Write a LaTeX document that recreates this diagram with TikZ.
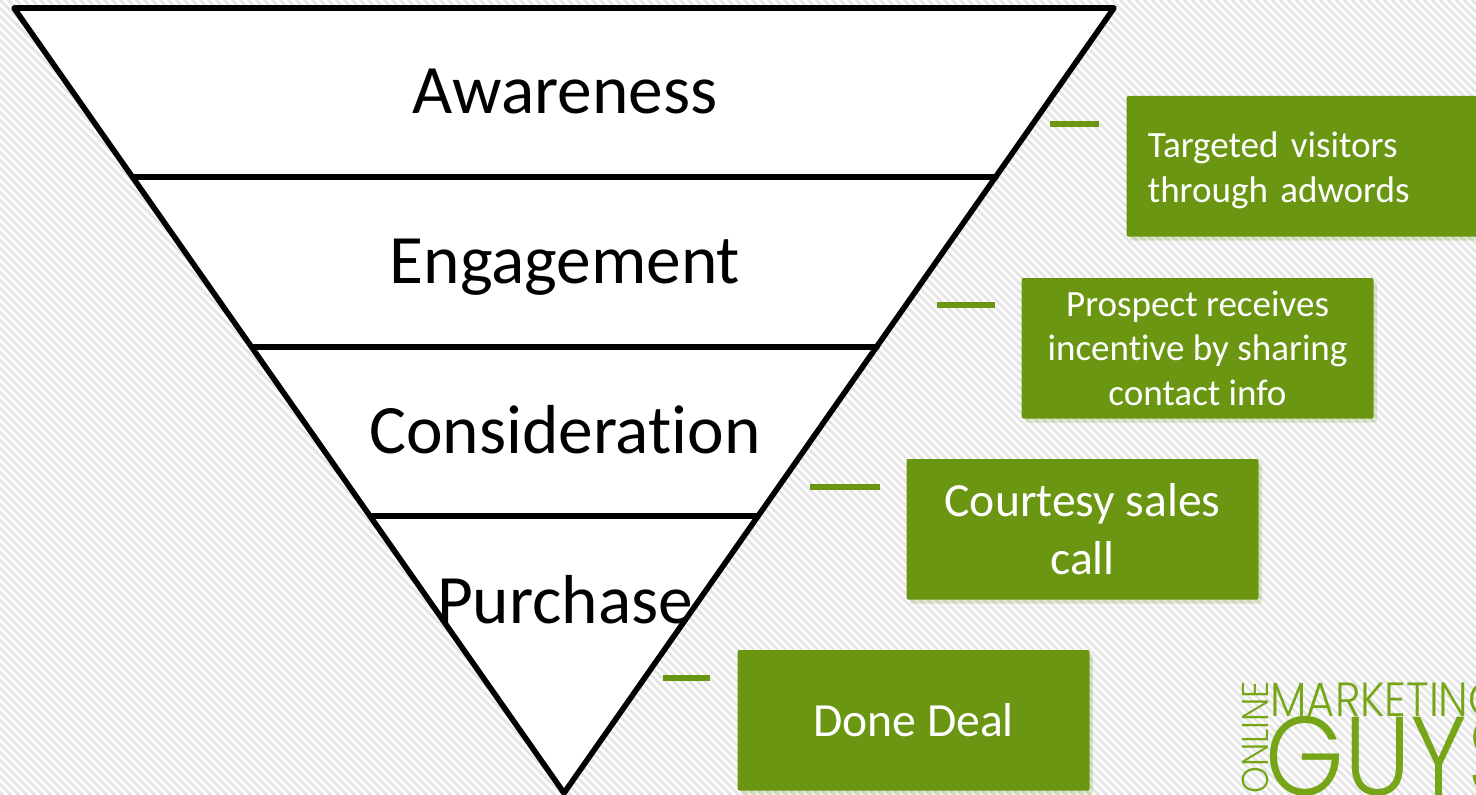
\documentclass[tikz,border=0pt]{standalone}
\usepackage{fontspec}
\usetikzlibrary{shadows}
\setmainfont[Ligatures=NoCommon]{Carlito}
\newfontfamily\logofont{Poppins Light}
\definecolor{boxgreen}{HTML}{6A9612}
\definecolor{logogreen}{HTML}{76A617}
\definecolor{stripegrey}{HTML}{E4E4E4}
\tikzset{every picture/.style={line width=0.75pt}}
\tikzset{
  funnelline/.style={line width=4.2pt,line join=round,line cap=round},
  funnellabel/.style={font=\fontsize{52}{60}\selectfont,inner sep=0pt,anchor=base},
  greenshadow/.style={drop shadow={shadow xshift=2.5pt,shadow yshift=-3pt,fill=boxgreen,opacity=0.2}},
  greenbox/.style={fill=boxgreen,text=white,rounded corners=1.5pt,minimum width=264pt,minimum height=105.5pt,
    inner sep=0pt,align=center,anchor=north west,greenshadow},
  smalltext/.style={font=\fontsize{27.8}{33.7}\selectfont},
  bigtext/.style={font=\fontsize{35.7}{43.5}\selectfont},
  tickline/.style={draw=boxgreen,line width=3.9pt,greenshadow},
  logotext/.style={text=logogreen,inner sep=0pt},
}
\begin{document}
\begin{tikzpicture}[x=0.75pt,y=0.75pt,yscale=-1,xscale=1]
\useasboundingbox (0,0) rectangle (1476,795);

%Shape: Background stripes
\foreach \s in {-800,-792,...,1480}
  \draw[stripegrey,line width=1.9pt] (\s,0) -- (\s+795,795);

%Shape: Funnel
\fill[white] (14,8) -- (1114,8) -- (564,793) -- cycle;
\draw[funnelline] (14,8) -- (1114,8) -- (564,793) -- cycle;
\draw[funnelline] (134,177) -- (996,177);
\draw[funnelline] (254,347) -- (877,347);
\draw[funnelline] (372,516) -- (758,516);

% Text Node
\node[funnellabel] (awareness) at (565,113.5) {Awareness};
% Text Node
\node[funnellabel] (engagement) at (565,283.5) {Engagement};
% Text Node
\node[funnellabel] (consideration) at (565,453) {Consideration};
% Text Node
\node[funnellabel] (purchase) at (565,623) {Purchase};

%Shape: Ticks
\coordinate (tick1a) at (1050,124);
\coordinate (tick1b) at (1099,124);
\coordinate (tick2a) at (937,305);
\coordinate (tick2b) at (995,305);
\coordinate (tick3a) at (810,487);
\coordinate (tick3b) at (880,487);
\coordinate (tick4a) at (663,678);
\coordinate (tick4b) at (710,678);
\draw[tickline] (tick1a) -- (tick1b);
\draw[tickline] (tick2a) -- (tick2b);
\draw[tickline] (tick3a) -- (tick3b);
\draw[tickline] (tick4a) -- (tick4b);

%Shape: Rectangle
\node[greenbox,smalltext,align=left,text width=247pt,inner xsep=16pt] (visitors) at (1126,95.5) {\begin{tabular}{@{}l@{}}\rule{0pt}{30pt}Targeted visitors\\through adwords\end{tabular}};
%Shape: Rectangle
\node[greenbox,smalltext] (prospect) at (1021,277.5) {Prospect receives\\incentive by sharing\\contact info};
%Shape: Rectangle
\node[greenbox,bigtext] (courtesy) at (906,458.5) {Courtesy sales\\call};
%Shape: Rectangle
\node[greenbox,bigtext] (done) at (737,649.5) {Done Deal};

% Text Node
\node[logotext,font=\logofont\fontsize{36}{36}\selectfont,anchor=base west,xscale=0.9] (marketing) at (1270,716) {MARKETING};
% Text Node
\node[logotext,font=\logofont\fontsize{84}{84}\selectfont,anchor=base west,xscale=0.9] (guys) at (1265,795) {GUYS};
% Text Node
\node[logotext,font=\logofont\fontsize{28}{28}\selectfont,rotate=90,xscale=0.91,anchor=base west] (online) at (1268,794) {ONLINE};

\end{tikzpicture}
\end{document}
